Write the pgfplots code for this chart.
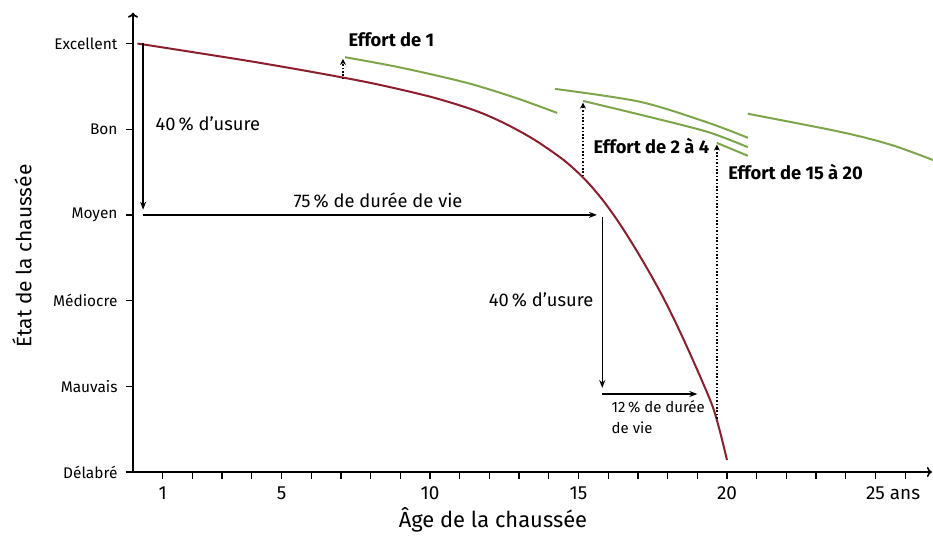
\documentclass[border=0pt]{standalone}
\usepackage{fontspec}
\setmainfont{Fira Sans}
\usepackage{pgfplots}
\pgfplotsset{compat=1.18}
\usetikzlibrary{arrows.meta}
\definecolor{roadred}{RGB}{140,30,45}
\definecolor{roadgreen}{RGB}{125,165,75}
\newcommand{\annfont}{\fontsize{18.4}{20}\selectfont}
\begin{document}
\begin{tikzpicture}
\path[use as bounding box] (-133bp,-67bp) rectangle (800bp,472bp);
\begin{axis}[
  at={(0,0)}, anchor=south west,
  x=29.7bp, y=85.7bp,
  xmin=0, xmax=26.9, ymin=0, ymax=5.36,
  axis x line=bottom, axis y line=left,
  axis line style={line width=1.6bp, -{To[length=5bp,width=10bp]}},
  clip=false,
  tick align=outside,
  major tick length=7bp, minor tick length=7bp,
  tick style={black, line width=1.3bp},
  xtick={1,5,10,15,20,25},
  minor xtick={2,3,4,6,7,8,9,11,12,13,14,16,17,18,19,21,22,23,24,26},
  xticklabels={1,5,10,15,20,{25\rlap{\ ans}}},
  xticklabel style={font=\fontsize{19}{21}\selectfont, yshift=-4bp},
  ytick={0,1,2,3,4,5},
  yticklabels={Délabré,Mauvais,Médiocre,Moyen,Bon,Excellent},
  yticklabel style={font=\fontsize{15.5}{17}\selectfont, xshift=-5bp},
]
% main deterioration curve
\addplot[roadred, line width=2bp, smooth] coordinates {
 (0.15,5.0) (2,4.90) (4,4.79) (6,4.67) (8,4.54) (10,4.38) (11.5,4.22) (12.5,4.07)
 (13.5,3.88) (14.5,3.64) (15.2,3.42) (15.8,3.18) (16.4,2.89) (17.1,2.50)
 (17.8,2.07) (18.4,1.65) (19.0,1.19) (19.5,0.78) (19.75,0.49) (20.0,0.14)};
% green curves after maintenance
\addplot[roadgreen, line width=2bp, smooth] coordinates {
 (7.14,4.84) (9,4.72) (11.25,4.54) (12.93,4.36) (14.28,4.19)};
\addplot[roadgreen, line width=2bp, smooth] coordinates {
 (14.21,4.47) (17.07,4.32) (19.33,4.08) (20.7,3.90)};
\addplot[roadgreen, line width=2bp, smooth] coordinates {
 (15.15,4.33) (17.07,4.17) (19.33,3.97) (20.7,3.79)};
\addplot[roadgreen, line width=2bp, smooth] coordinates {
 (19.66,3.84) (20.7,3.69)};
\addplot[roadgreen, line width=2bp, smooth] coordinates {
 (20.7,4.18) (23.8,3.97) (25.5,3.82) (26.94,3.64)};
% dotted effort arrows
\addplot[black, line width=1.6bp, dash pattern=on 1.6bp off 1.8bp, -{Stealth[length=6bp,width=6bp]}] coordinates {(7.07,4.58) (7.07,4.82)};
\addplot[black, line width=1.6bp, dash pattern=on 1.6bp off 1.8bp, -{Stealth[length=6bp,width=6bp]}] coordinates {(15.15,3.45) (15.15,4.31)};
\addplot[black, line width=1.6bp, dash pattern=on 1.6bp off 1.8bp, -{Stealth[length=6bp,width=6bp]}] coordinates {(19.66,0.62) (19.66,3.82)};
% solid arrows
\addplot[black, line width=1.3bp, -{Stealth[length=8bp,width=6bp]}] coordinates {(0.34,5.0) (0.34,3.06)};
\addplot[black, line width=1.3bp, -{Stealth[length=8bp,width=6bp]}] coordinates {(0.34,3.0) (15.62,3.0)};
\addplot[black, line width=1.3bp, -{Stealth[length=8bp,width=6bp]}] coordinates {(15.8,2.97) (15.8,0.98)};
\addplot[black, line width=1.3bp, -{Stealth[length=8bp,width=6bp]}] coordinates {(15.8,0.91) (19.0,0.91)};
% annotations
\node[anchor=base west, font=\annfont\bfseries] at (axis cs:7.14,4.96) {Effort de 1};
\node[anchor=base west, font=\annfont] at (axis cs:0.64,3.99) {40\,\% d’usure};
\node[anchor=base, font=\annfont] at (axis cs:8.25,3.09) {75\,\% de durée de vie};
\node[anchor=base west, font=\annfont\bfseries] at (axis cs:15.39,3.72) {Effort de 2 à 4};
\node[anchor=base west, font=\annfont\bfseries] at (axis cs:19.93,3.41) {Effort de 15 à 20};
\node[anchor=base east, font=\annfont] at (axis cs:15.62,1.93) {40\,\% d’usure};
\node[anchor=base west, font=\fontsize{15}{17}\selectfont] at (axis cs:16.0,0.69) {12\,\% de durée};
\node[anchor=base west, font=\fontsize{15}{17}\selectfont] at (axis cs:16.0,0.455) {de vie};
% axis titles
\node[anchor=base, font=\fontsize{22}{24}\selectfont] at ([yshift=-55bp]axis cs:12.12,0) {Âge de la chaussée};
\node[rotate=90, anchor=center, font=\fontsize{21}{23}\selectfont] at ([xshift=-111bp]axis cs:0,2.52) {État de la chaussée};
\end{axis}
\end{tikzpicture}
\end{document}
